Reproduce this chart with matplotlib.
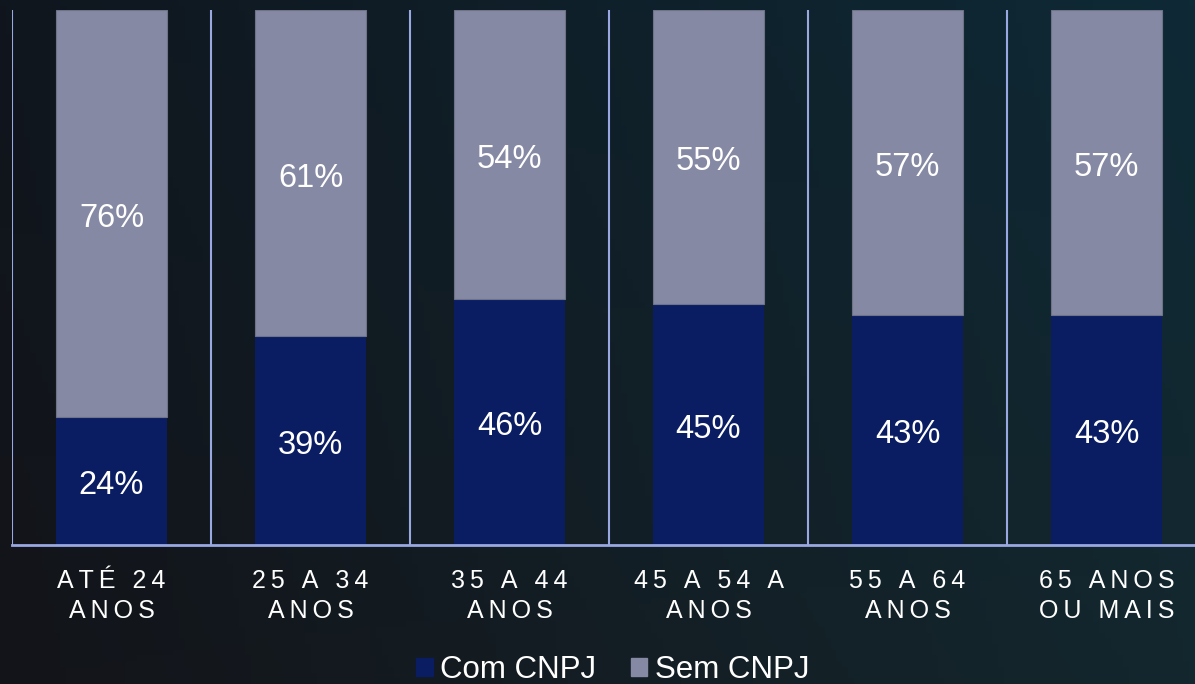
import numpy as np
import matplotlib
matplotlib.use("Agg")
from matplotlib import pyplot as plt
from matplotlib.patches import Patch

plt.rcParams['font.family'] = ['Liberation Sans', 'DejaVu Sans']

# data
categories = ["ATÉ 24\nANOS", "25 A 34\nANOS", "35 A 44\nANOS",
              "45 A 54 A\nANOS", "55 A 64\nANOS", "65 ANOS\nOU MAIS"]
com_cnpj = [24, 39, 46, 45, 43, 43]
sem_cnpj = [76, 61, 54, 55, 57, 57]

navy = "#0a1d63"
grey = "#8589a3"
sep_col = "#9aa8e2"


def spaced(label):
    # fake letter spacing with thin spaces
    return "\n".join("\u2009".join(line) for line in label.split("\n"))


fig = plt.figure(figsize=(11.95, 6.84), dpi=100)

# background gradient
bg = fig.add_axes([0, 0, 1, 1])
tl = np.array([0x10, 0x16, 0x1e]) / 255
tr = np.array([0x0e, 0x2a, 0x36]) / 255
bl = np.array([0x13, 0x14, 0x19]) / 255
br = np.array([0x14, 0x27, 0x2e]) / 255
u = np.linspace(0, 1, 200)[None, :, None]
v = np.linspace(0, 1, 120)[:, None, None]
img = (1 - v) * ((1 - u) * tl + u * tr) + v * ((1 - u) * bl + u * br)
bg.imshow(img, aspect="auto", extent=[0, 1, 0, 1])
bg.axis("off")

ax = fig.add_axes([12 / 1195, 139 / 684, 1194 / 1195, 535 / 684])
ax.set_facecolor("none")
x = np.arange(len(categories))
ax.bar(x, com_cnpj, width=0.56, color=navy, zorder=2)
ax.bar(x, sem_cnpj, width=0.56, bottom=com_cnpj, color=grey,
       edgecolor="#6f7388", linewidth=0.8, zorder=2)

for i in range(len(categories)):
    ax.annotate(f"{com_cnpj[i]}%", (i, com_cnpj[i] / 2), xytext=(0, -3.5),
                textcoords="offset points", ha="center", va="center",
                color="white", fontsize=23.5)
    ax.annotate(f"{sem_cnpj[i]}%", (i, com_cnpj[i] + sem_cnpj[i] / 2),
                xytext=(0, -3.5), textcoords="offset points", ha="center",
                va="center", color="white", fontsize=23.5)

for b in np.arange(-0.5, len(categories) - 0.5, 1.0):
    ax.plot([b, b], [0, 100], color=sep_col, linewidth=1.5, zorder=1)

ax.set_xlim(-0.5, len(categories) - 0.5)
ax.set_ylim(0, 100)
for s in ["top", "right", "left"]:
    ax.spines[s].set_visible(False)
ax.spines["bottom"].set_color(sep_col)
ax.spines["bottom"].set_linewidth(2)
ax.set_yticks([])
ax.set_xticks(x)
ax.set_xticklabels([spaced(c) for c in categories], color="white",
                   fontsize=18, linespacing=1.35)
ax.tick_params(axis="x", length=0, pad=17)

handles = [Patch(color=navy, label="Com CNPJ"), Patch(color=grey, label="Sem CNPJ")]
fig.legend(handles=handles, loc="center", bbox_to_anchor=(613 / 1195, 14 / 684),
           ncol=2, frameon=False, fontsize=22.5, labelcolor="white",
           handlelength=0.52, handleheight=0.52, handletextpad=0.25,
           columnspacing=1.1, borderpad=0)

fig.savefig("out.png", dpi=100)
